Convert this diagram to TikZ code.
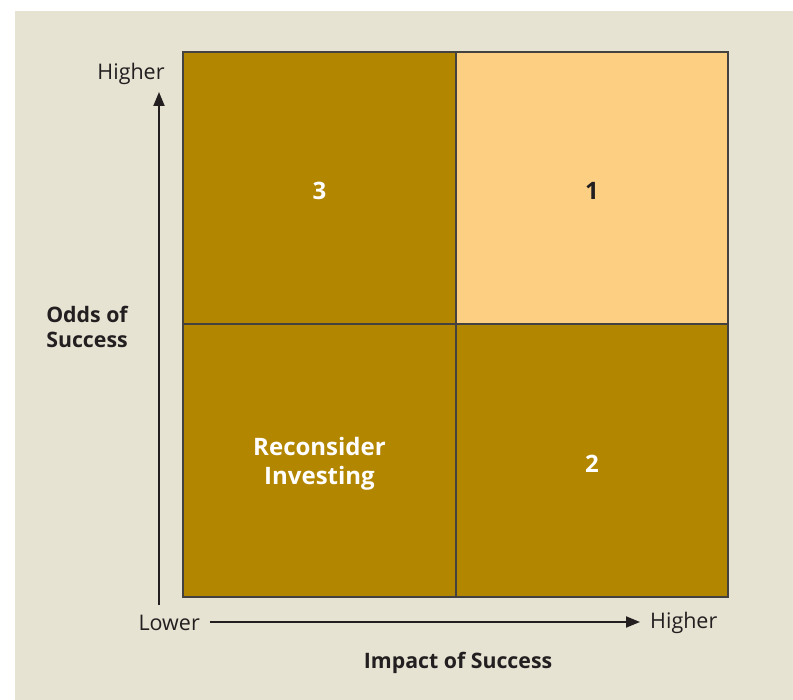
\documentclass[tikz,border=0pt]{standalone}
\usepackage{fontspec}
\setmainfont{Open Sans}
\usetikzlibrary{arrows.meta,calc}
\definecolor{panel}{HTML}{E6E3D3}
\definecolor{gold}{HTML}{B38600}
\definecolor{peach}{HTML}{FDCF82}
\definecolor{ink}{HTML}{231F20}
\begin{document}
\begin{tikzpicture}[x=1pt,y=-1pt,
  cell/.style={draw=ink!85,line width=1.6pt},
  axis/.style={draw=ink,line width=2pt,-{Triangle[length=14pt,width=11pt]}},
  lab/.style={font=\fontsize{21.5}{25}\selectfont,text=ink,inner sep=0pt},
  blab/.style={font=\fontsize{21.3}{25}\selectfont\bfseries,text=ink,align=center},
  qlab/.style={font=\fontsize{24}{29}\selectfont\bfseries,text=white,align=center}]
\useasboundingbox (0,0) rectangle (793,700);
\fill[white] (0,0) rectangle (793,700);
\fill[panel] (15,11) rectangle (793,700);
% quadrants
\fill[gold] (183,52) rectangle (456,324);
\fill[peach] (456,52) rectangle (728,324);
\fill[gold] (183,324) rectangle (456,597);
\fill[gold] (456,324) rectangle (728,597);
\draw[cell] (183,52) rectangle (728,597);
\draw[cell] (456,52) -- (456,597);
\draw[cell] (183,324) -- (728,324);
\node[qlab] (q3) at (319.5,191) {3};
\node[qlab,text=ink] (q1) at (592,191) {1};
\node[qlab] (q0) at (319.5,464) {Reconsider\\Investing};
\node[qlab] (q2) at (592,464) {2};
% axes
\node[lab,anchor=east] (ylo) at (200,623) {Lower};
\node[lab,anchor=west] (xhi) at (650,623) {Higher};
\node[lab] (yhi) at (131,74) {Higher};
\coordinate (ybase) at (159,605);
\coordinate (ytop) at (159,92);
\draw[axis] (ybase) -- (ytop);
\draw[axis] ($(ylo.east)+(10,-1)$) -- ($(xhi.west)+(-10,-1)$);
\node[blab] (ytitle) at (87,327) {Odds of\\Success};
\node[blab] (xtitle) at (458,663) {Impact of Success};
\end{tikzpicture}
\end{document}
